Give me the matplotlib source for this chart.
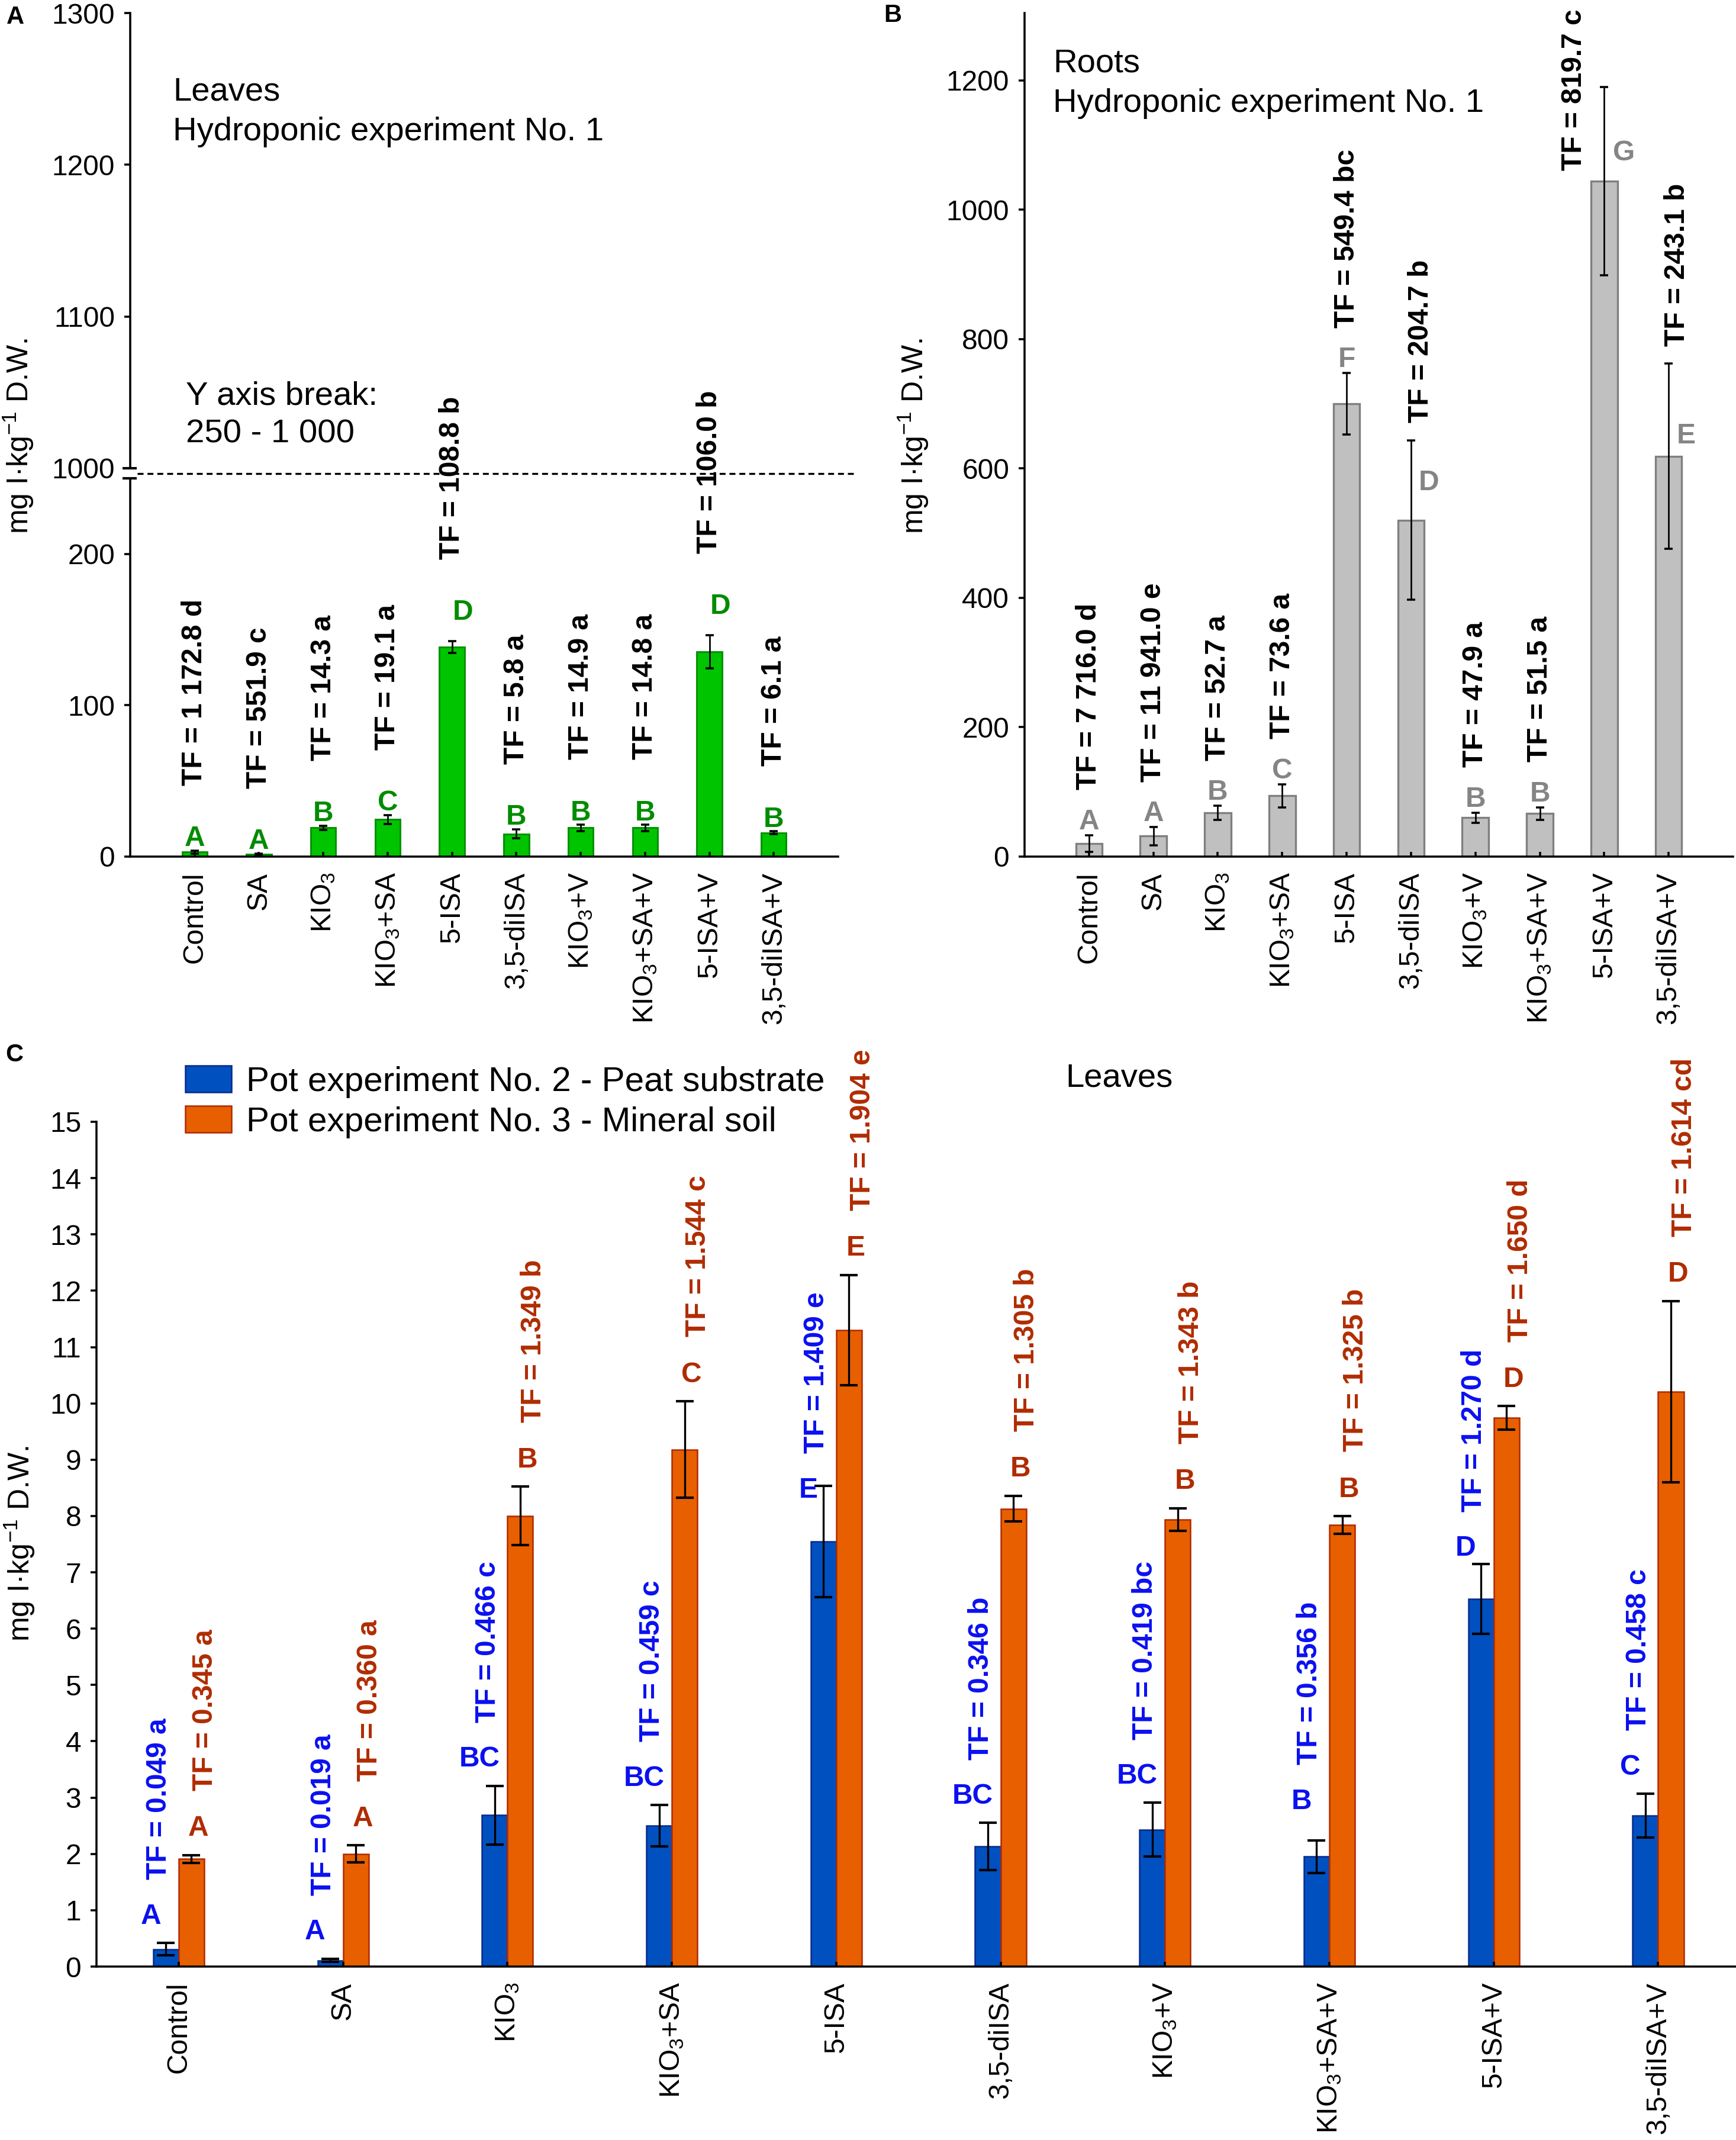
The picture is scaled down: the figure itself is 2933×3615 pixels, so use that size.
import numpy as np
import matplotlib
matplotlib.use('Agg')
import matplotlib.pyplot as plt

plt.rcParams['font.family'] = ['Liberation Sans', 'DejaVu Sans']
plt.rcParams['mathtext.default'] = 'regular'

# ==========================
# DATA
# ==========================

treatments = ['Control', 'SA', 'KIO$_3$', 'KIO$_3$+SA', '5-ISA', '3,5-diISA',
              'KIO$_3$+V', 'KIO$_3$+SA+V', '5-ISA+V', '3,5-diISA+V']

# A - leaves, hydroponic experiment No. 1
leaves_hydro = [3.0, 1.5, 19.0, 24.5, 138.5, 15.0, 19.0, 19.0, 135.4, 15.7]
leaves_hydro_err = [1.0, 0.5, 1.5, 3.0, 4.0, 3.0, 2.0, 2.0, 11.0, 1.0]
leaves_hydro_grp = ['A', 'A', 'B', 'C', 'D', 'B', 'B', 'B', 'D', 'B']
leaves_hydro_tf = ['TF = 1 172.8 d', 'TF = 551.9 c', 'TF = 14.3 a', 'TF = 19.1 a',
                   'TF = 108.8 b', 'TF = 5.8 a', 'TF = 14.9 a', 'TF = 14.8 a',
                   'TF = 106.0 b', 'TF = 6.1 a']

# B - roots, hydroponic experiment No. 1
roots_hydro = [20.4, 31.7, 67.4, 94.0, 700.0, 520.0, 60.0, 66.4, 1044.0, 619.0]
roots_hydro_err = [12.8, 14.0, 11.0, 18.0, 47.5, 123.0, 8.0, 10.0, 145.5, 143.0]
roots_hydro_grp = ['A', 'A', 'B', 'C', 'F', 'D', 'B', 'B', 'G', 'E']
roots_hydro_tf = ['TF = 7 716.0 d', 'TF = 11 941.0 e', 'TF = 52.7 a', 'TF = 73.6 a',
                  'TF = 549.4 bc', 'TF = 204.7 b', 'TF = 47.9 a', 'TF = 51.5 a',
                  'TF = 819.7 c', 'TF = 243.1 b']

# C - leaves, pot experiments No. 2 and No. 3
peat = [0.31, 0.11, 2.69, 2.50, 7.55, 2.13, 2.43, 1.95, 6.53, 2.68]
peat_err = [0.11, 0.03, 0.52, 0.37, 0.99, 0.42, 0.48, 0.29, 0.62, 0.39]
peat_grp = ['A', 'A', 'BC', 'BC', 'E', 'BC', 'BC', 'B', 'D', 'C']
peat_tf = ['TF = 0.049 a', 'TF = 0.019 a', 'TF = 0.466 c', 'TF = 0.459 c',
           'TF = 1.409 e', 'TF = 0.346 b', 'TF = 0.419 bc', 'TF = 0.356 b',
           'TF = 1.270 d', 'TF = 0.458 c']

mineral = [1.91, 2.00, 8.00, 9.18, 11.30, 8.13, 7.94, 7.84, 9.74, 10.21]
mineral_err = [0.07, 0.15, 0.52, 0.86, 0.98, 0.23, 0.20, 0.16, 0.21, 1.61]
mineral_grp = ['A', 'A', 'B', 'C', 'E', 'B', 'B', 'B', 'D', 'D']
mineral_tf = ['TF = 0.345 a', 'TF = 0.360 a', 'TF = 1.349 b', 'TF = 1.544 c',
              'TF = 1.904 e', 'TF = 1.305 b', 'TF = 1.343 b', 'TF = 1.325 b',
              'TF = 1.650 d', 'TF = 1.614 cd']

ylab = 'mg I\u00b7kg$^{-1}$ D.W.'

# ==========================
# FIGURE LAYOUT (pixels)
# ==========================

W, H = 2933, 3615
fig = plt.figure(figsize=(W / 300, H / 300), dpi=300)


def px_box(l, t, r, b):
    return [l / W, 1 - b / H, (r - l) / W, (b - t) / H]


def ftext(xp, yp, s, **kw):
    fig.text(xp / W, 1 - yp / H, s, **kw)


def style(ax, bottom=True):
    ax.patch.set_visible(False)
    for side in ['top', 'right']:
        ax.spines[side].set_visible(False)
    if not bottom:
        ax.spines['bottom'].set_visible(False)
    for sp in ax.spines.values():
        sp.set_linewidth(0.85)
    ax.tick_params(axis='y', direction='out', length=2.4, width=0.85,
                   pad=3.8, labelsize=11.5)
    ax.tick_params(axis='x', direction='in', length=2.0, width=0.85,
                   pad=6.2, labelsize=11.5)


x = np.arange(len(treatments))
err_thin = dict(ecolor='black', elinewidth=0.65, capsize=1.7, capthick=0.85)
letter_kw = dict(ha='center', va='baseline', fontsize=11.5, fontweight='bold')
tf_kw = dict(rotation=90, ha='center', va='bottom', fontsize=11.5,
             fontweight='bold', clip_on=False)

# ==========================
# A - LEAVES (broken axis)
# ==========================

axA_up = fig.add_axes(px_box(220, 22, 1416, 791))
axA = fig.add_axes(px_box(220, 808, 1416, 1447))

axA.bar(x, leaves_hydro, width=0.39, color='#00C400', edgecolor='#009000',
        linewidth=0.7, yerr=leaves_hydro_err, error_kw=err_thin)
axA.set_xlim(-1, 10)
axA.set_ylim(0, 250)
axA.set_yticks([0, 100, 200])
axA.set_xticks(x)
axA.set_xticklabels(treatments, rotation=90)
style(axA)

axA_up.set_xlim(-1, 10)
axA_up.set_ylim(1000, 1300)
axA_up.set_yticks([1000, 1100, 1200, 1300])
axA_up.set_xticks([])
style(axA_up, bottom=False)

# break marks and dashed break line
for ax_, yy in ((axA_up, 0), (axA, 1)):
    ax_.plot([-13 / 1196, 11 / 1196], [yy, yy], transform=ax_.transAxes,
             color='black', lw=1.0, clip_on=False, solid_capstyle='butt')
axA.plot([12 / 1196, 1227 / 1196], [1 + 8 / 639] * 2, transform=axA.transAxes,
         color='black', lw=0.8, ls=(0, (3, 2)), clip_on=False)

a_shift = {4: (0.17, 11), 8: (0.17, 11)}
for i in x:
    top = leaves_hydro[i] + leaves_hydro_err[i]
    dx, lift = a_shift.get(i, (0, 0))
    axA.text(i + dx, top + 3 + lift, leaves_hydro_grp[i], color='#008C00',
             clip_on=False, **letter_kw)
    axA.text(i, top + 40 + lift + 3, leaves_hydro_tf[i], **tf_kw)

ftext(292, 156, 'Leaves', fontsize=13.5, va='center')
ftext(292, 223, 'Hydroponic experiment No. 1', fontsize=13.5, va='center')
ftext(314, 670, 'Y axis break:', fontsize=13.5, va='center')
ftext(314, 734, '250 - 1 000', fontsize=13.5, va='center')
ftext(31, 737, ylab, fontsize=12, rotation=90, ha='center', va='center')
ftext(11, 9, 'A', fontsize=10, fontweight='bold', va='top')

# ==========================
# B - ROOTS
# ==========================

axB = fig.add_axes(px_box(1731, 22, 2928, 1447))
axB.bar(x, roots_hydro, width=0.41, color='#C0C0C0', edgecolor='#7F7F7F',
        linewidth=0.8, yerr=roots_hydro_err, error_kw=err_thin)
axB.set_xlim(-1, 10)
axB.set_ylim(0, 1304)
axB.set_yticks(np.arange(0, 1201, 200))
axB.set_xticks(x)
axB.set_xticklabels(treatments, rotation=90)
style(axB)

# letters put beside the bar where the error bar is long
b_side = {5: (0.28, 58, 0.15, 'err', 28),
          8: (0.31, 44, -0.47, 'val', 17),
          9: (0.27, 31, 0.13, 'err', 27)}
for i in x:
    val = roots_hydro[i]
    top = val + roots_hydro_err[i]
    if i in b_side:
        ldx, ldy, tdx, base, tdy = b_side[i]
        axB.text(i + ldx, val + ldy, roots_hydro_grp[i], ha='center', va='center',
                 fontsize=11.5, fontweight='bold', color='#858585')
        tb = top if base == 'err' else val
        axB.text(i + tdx, tb + tdy, roots_hydro_tf[i], **tf_kw)
    else:
        axB.text(i, top + 9, roots_hydro_grp[i], color='#858585', **letter_kw)
        axB.text(i, top + 70, roots_hydro_tf[i], **tf_kw)

ftext(1779, 108, 'Roots', fontsize=13.5, va='center')
ftext(1779, 175, 'Hydroponic experiment No. 1', fontsize=13.5, va='center')
ftext(1543, 737, ylab, fontsize=12, rotation=90, ha='center', va='center')
ftext(1493, 6, 'B', fontsize=10, fontweight='bold', va='top')

# ==========================
# C - POT EXPERIMENTS
# ==========================

axC = fig.add_axes(px_box(163, 1895, 2932, 3322))
bw = 0.155
err_c = dict(ecolor='black', elinewidth=0.8, capsize=3.6, capthick=1.0)
bars_peat = axC.bar(x - bw / 2, peat, bw, color='#0050C0', edgecolor='#0A2A8C',
                    linewidth=0.6, yerr=peat_err, error_kw=err_c)
bars_min = axC.bar(x + bw / 2, mineral, bw, color='#E85F00', edgecolor='#B02A00',
                   linewidth=0.6, yerr=mineral_err, error_kw=err_c)
axC.set_xlim(-0.5, 9.47)
axC.set_ylim(0, 15)
axC.set_yticks(np.arange(0, 16))
axC.set_xticks(x)
axC.set_xticklabels(treatments, rotation=90)
style(axC)

peat_lift = {4: -0.55, 7: 0.22, 8: -0.2}
for i in x:
    top = peat[i] + peat_err[i] + peat_lift.get(i, 0)
    axC.text(i - 0.17, top + 0.34, peat_grp[i], color='#0A10F0', **letter_kw)
    axC.text(i - 0.12, top + 1.12, peat_tf[i], color='#0A10F0', **tf_kw)
    top = mineral[i] + mineral_err[i]
    axC.text(i + 0.12, top + 0.34, mineral_grp[i], color='#B02C00', **letter_kw)
    axC.text(i + 0.16, top + 1.14, mineral_tf[i], color='#B02C00', **tf_kw)

fig.legend([bars_peat, bars_min],
           ['Pot experiment No. 2 - Peat substrate', 'Pot experiment No. 3 - Mineral soil'],
           loc='upper left', bbox_to_anchor=(313 / W, 1 - 1800 / H), frameon=False,
           fontsize=14, handlelength=1.34, handleheight=0.82, handletextpad=0.43,
           labelspacing=0.22, borderpad=0, borderaxespad=0)

ftext(1800, 1821, 'Leaves', fontsize=13.5, va='center')
ftext(33, 2608, ylab, fontsize=12, rotation=90, ha='center', va='center')
ftext(9, 1762, 'C', fontsize=10, fontweight='bold', va='top')

fig.savefig('out.png', dpi=300, facecolor='white')
